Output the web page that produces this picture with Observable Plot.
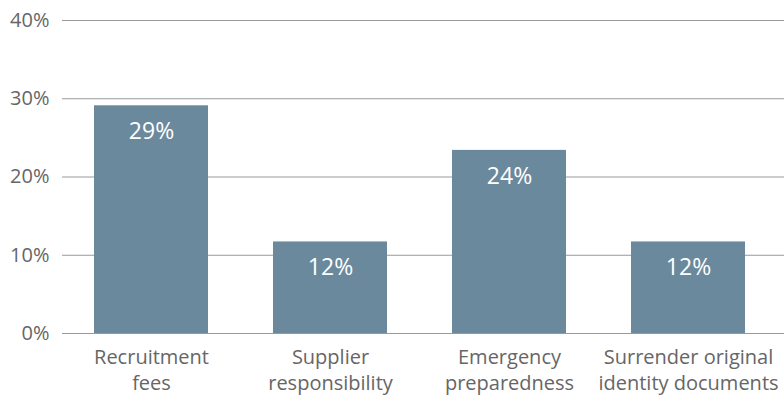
<!DOCTYPE html>
<html>
<head>
<meta charset="utf-8">
<script src="https://cdn.jsdelivr.net/npm/d3@7"></script>
<script src="https://cdn.jsdelivr.net/npm/@observablehq/plot@0.6"></script>
<style>
  html, body { margin: 0; padding: 0; background: #fff; }
  #chart { width: 784px; height: 395px; }
</style>
</head>
<body>
<div id="chart"></div>
<script>
const categories = [
  "Recruitment\nfees",
  "Supplier\nresponsibility",
  "Emergency\npreparedness",
  "Surrender original\nidentity documents"
];
const values = [29.1, 11.7, 23.4, 11.7];
const valueLabels = ["29%", "12%", "24%", "12%"];
const yTicks = [0, 10, 20, 30, 40];

const data = categories.map((c, i) => ({category: c, value: values[i], label: valueLabels[i]}));

const chart = Plot.plot({
  width: 784,
  height: 395,
  marginTop: 20,
  marginBottom: 62,
  marginLeft: 62,
  marginRight: 0,
  style: {fontFamily: "'Open Sans', sans-serif", background: "#fff"},
  x: {domain: categories, range: [62, 776], paddingInner: 0.364, paddingOuter: 0.173, label: null},
  y: {domain: [0, 40], label: null},
  marks: [
    Plot.ruleY(yTicks, {stroke: "#999", strokeWidth: 1}),
    Plot.barY(data, {x: "category", y: "value", fill: "#6b899d"}),
    Plot.text(data, {x: "category", y: "value", text: "label", fill: "#fff", fontSize: 23, fontWeight: 500, dy: 26, lineAnchor: "middle", style: {letterSpacing: "1.5px"}}),
    Plot.axisY({ticks: yTicks, tickSize: 0, tickPadding: 13, tickFormat: d => d + "%", fontSize: 20, color: "#666", label: null}),
    Plot.axisX({tickSize: 0, tickPadding: 12, fontSize: 20, color: "#666", lineHeight: 1.3, label: null})
  ]
});
document.getElementById("chart").appendChild(chart);
</script>
</body>
</html>
